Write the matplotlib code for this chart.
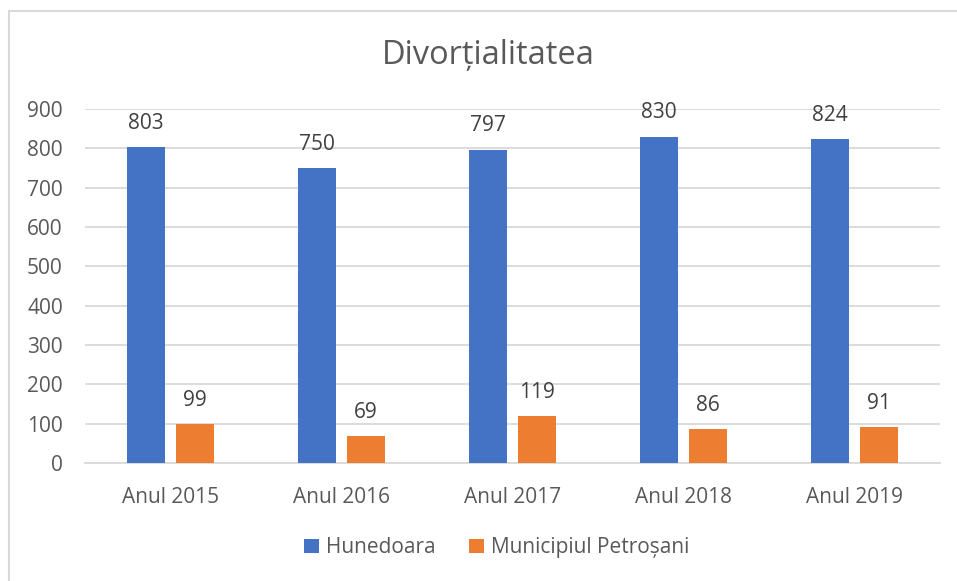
import numpy as np
import matplotlib
matplotlib.use("Agg")
import matplotlib.pyplot as plt
from matplotlib.patches import Rectangle

plt.rcParams['font.family'] = ['Open Sans', 'DejaVu Sans']

categories = ["Anul 2015", "Anul 2016", "Anul 2017", "Anul 2018", "Anul 2019"]
hunedoara = [803, 750, 797, 830, 824]
petrosani = [99, 69, 119, 86, 91]
series_names = ["Hunedoara", "Municipiul Petroșani"]
title = "Divorțialitatea"

blue = "#4472C4"
orange = "#ED7D31"
text_col = "#595959"
grid_col = "#D9D9D9"

fig = plt.figure(figsize=(9.57, 5.81), dpi=100)
ax = fig.add_axes([0.0888, 0.2031, 0.982 - 0.0888, 0.8124 - 0.2031])

x = np.arange(len(categories))
w = 0.225
off = 0.143
b1 = ax.bar(x - off, hunedoara, w, color=blue, label=series_names[0], zorder=3)
b2 = ax.bar(x + off, petrosani, w, color=orange, label=series_names[1], zorder=3)

for bars in (b1, b2):
    for rect in bars:
        h = rect.get_height()
        ax.annotate(f"{int(h)}", (rect.get_x() + rect.get_width() / 2, h),
                    xytext=(0, 9.5), textcoords="offset points",
                    ha="center", va="bottom", fontsize=15, color="#404040")

ax.set_xlim(-0.5, len(categories) - 0.5)
ax.set_ylim(0, 900)
ax.set_yticks(np.arange(0, 901, 100))
ax.set_xticks(x)
ax.set_xticklabels(categories)
ax.yaxis.grid(True, color=grid_col, linewidth=1.3, zorder=0)
ax.set_axisbelow(True)
for s in ["top", "right", "left"]:
    ax.spines[s].set_visible(False)
ax.spines["bottom"].set_color(grid_col)
ax.spines["bottom"].set_linewidth(1.3)
ax.tick_params(axis="both", length=0, labelsize=15, colors=text_col)
ax.tick_params(axis="x", pad=17)
ax.tick_params(axis="y", pad=16)

fig.text(0.51, 0.905, title, ha="center", va="center", fontsize=23.5, color=text_col)

leg = fig.legend(loc="center", bbox_to_anchor=(0.519, 0.057), ncol=2, frameon=False,
                 fontsize=15, handlelength=0.7, handleheight=0.7, columnspacing=1.6,
                 handletextpad=0.35)
for t in leg.get_texts():
    t.set_color(text_col)

fig.patches.append(Rectangle((9 / 957, -0.05), 1.05, 1 - 11 / 581 + 0.05,
                             transform=fig.transFigure, fill=False,
                             edgecolor=grid_col, linewidth=1.5))

fig.savefig("out.png", dpi=100)
